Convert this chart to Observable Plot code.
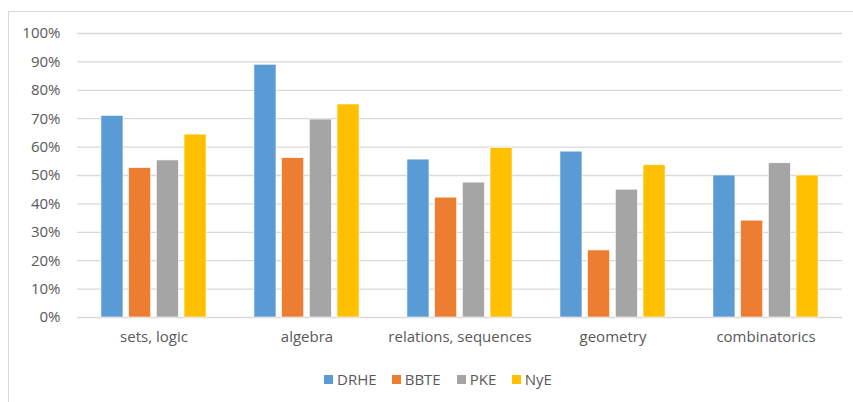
<!DOCTYPE html>
<html>
<head>
<meta charset="utf-8">
<script src="https://cdn.jsdelivr.net/npm/d3@7"></script>
<script src="https://cdn.jsdelivr.net/npm/@observablehq/plot@0.6"></script>
<style>
  html, body { margin: 0; padding: 0; background: #fff; overflow: hidden; }
  #wrap { position: relative; width: 853px; height: 402px; font-family: "Open Sans", sans-serif; }
  #border { position: absolute; left: 8px; top: 11px; width: 900px; height: 500px; border: 1px solid #d9d9d9; box-sizing: border-box; }
  #chart { position: absolute; left: 0; top: 0; }
  .lg { position: absolute; top: 369px; display: flex; align-items: center; font-size: 15px; color: #595959; }
  .lg span.sw { display: inline-block; width: 9px; height: 9px; margin-right: 4px; }
</style>
</head>
<body>
<div id="wrap">
  <div id="border"></div>
  <div id="chart"></div>
</div>
<script>
const categories = ["sets, logic", "algebra", "relations, sequences", "geometry", "combinatorics"];
const seriesNames = ["DRHE", "BBTE", "PKE", "NyE"];
const DRHE = [71.0, 89.0, 55.6, 58.4, 50.0];
const BBTE = [52.6, 56.1, 42.2, 23.6, 34.1];
const PKE  = [55.3, 69.7, 47.5, 45.0, 54.3];
const NyE  = [64.4, 75.0, 59.7, 53.6, 50.0];
const yTicks = [0, 10, 20, 30, 40, 50, 60, 70, 80, 90, 100];
const colors = ["#5B9BD5", "#ED7D31", "#A5A5A5", "#FFC000"];

const seriesValues = [DRHE, BBTE, PKE, NyE];
const data = [];
categories.forEach((c, ci) => {
  seriesValues.forEach((vals, si) => {
    data.push({ ci, si, value: vals[ci] });
  });
});

const step = 0.181, bw = 0.144;
const chart = Plot.plot({
  width: 853,
  height: 402,
  marginTop: 33,
  marginBottom: 85,
  marginLeft: 77,
  marginRight: 11,
  style: { fontFamily: "'Open Sans', sans-serif", fontSize: "15px", color: "#595959", background: "transparent" },
  x: { domain: [-0.5, 4.5] },
  y: { domain: [0, 100] },
  marks: [
    Plot.ruleY(yTicks, { stroke: "#d9d9d9", strokeWidth: 1.3 }),
    Plot.rectY(data, {
      x1: d => d.ci + (d.si - 1.5) * step - bw / 2,
      x2: d => d.ci + (d.si - 1.5) * step + bw / 2,
      y1: 0,
      y2: d => d.value,
      fill: d => colors[d.si],
      stroke: "#ffffff",
      strokeWidth: 0.6
    }),
    Plot.axisY({ ticks: yTicks, tickFormat: d => d + "%", tickSize: 0, tickPadding: 17, label: null, fill: "#595959", fontSize: 15 }),
    Plot.axisX({ ticks: [0, 1, 2, 3, 4], tickFormat: i => categories[i], tickSize: 0, tickPadding: 14, label: null, fill: "#595959", fontSize: 15 })
  ]
});
document.getElementById("chart").appendChild(chart);

const lx = [324, 391.7, 456.7, 511.7];
const wrap = document.getElementById("wrap");
seriesNames.forEach((n, i) => {
  const d = document.createElement("div");
  d.className = "lg";
  d.style.left = lx[i] + "px";
  d.innerHTML = `<span class="sw" style="background:${colors[i]}"></span><span>${n}</span>`;
  wrap.appendChild(d);
});
</script>
</body>
</html>
